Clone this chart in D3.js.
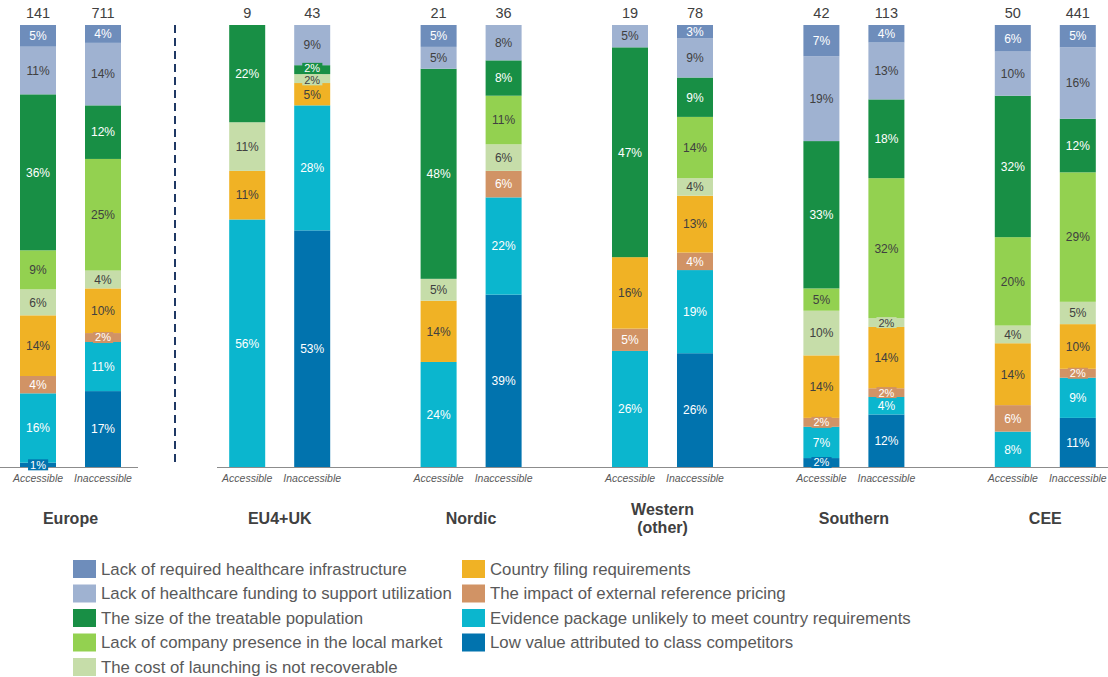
<!DOCTYPE html>
<html><head><meta charset="utf-8">
<script src="https://cdn.jsdelivr.net/npm/d3@7"></script>
<style>
html,body{margin:0;padding:0;background:#fff;}
svg{display:block;font-family:"Liberation Sans",Arial,sans-serif;}
</style></head>
<body><svg id="chart" width="1108" height="677"></svg>
<script>
// ---- data ----
const groups = ["Europe", "EU4+UK", "Nordic", "Western\n(other)", "Southern", "CEE"];
const categories = ["Accessible", "Inaccessible"];
const respondents = [141, 711, 9, 43, 21, 36, 19, 78, 42, 113, 50, 441];
const reasons = [
  "Lack of required healthcare infrastructure",
  "Lack of healthcare funding to support utilization",
  "The size of the treatable population",
  "Lack of company presence in the local market",
  "The cost of launching is not recoverable",
  "Country filing requirements",
  "The impact of external reference pricing",
  "Evidence package unlikely to meet country requirements",
  "Low value attributed to class competitors"
];
// values per bar: Europe A/I, EU4+UK A/I, Nordic A/I, Western A/I, Southern A/I, CEE A/I
const infrastructure = [5, 4, 0, 0, 5, 0, 0, 3, 7, 4, 6, 5];
const funding        = [11, 14, 0, 9, 5, 8, 5, 9, 19, 13, 10, 16];
const populationSize = [36, 12, 22, 2, 48, 8, 47, 9, 33, 18, 32, 12];
const presence       = [9, 25, 0, 0, 0, 11, 0, 14, 5, 32, 20, 29];
const launchCost     = [6, 4, 11, 2, 5, 6, 0, 4, 10, 2, 4, 5];
const filing         = [14, 10, 11, 5, 14, 0, 16, 13, 14, 14, 14, 10];
const refPricing     = [4, 2, 0, 0, 0, 6, 5, 4, 2, 2, 6, 2];
const evidence       = [16, 11, 56, 28, 24, 22, 26, 19, 7, 4, 8, 9];
const lowValue       = [1, 17, 0, 53, 0, 39, 0, 26, 2, 12, 0, 11];

const seriesValues = [infrastructure, funding, populationSize, presence, launchCost, filing, refPricing, evidence, lowValue];
const colors = ["#6E8DBB", "#9FB2D1", "#188F45", "#93D150", "#C6DDA9", "#F0B225", "#D19365", "#0BB6CE", "#0173AE"];
const darkText = [false, true, false, true, true, true, false, false, false];

// ---- build table ----
const rows = [];
groups.forEach((g, gi) => categories.forEach((c, ci) => {
  const i = gi * 2 + ci;
  const r = {group: g, cat: c, n: respondents[i]};
  reasons.forEach((k, ki) => r[k] = seriesValues[ki][i]);
  rows.push(r);
}));

const stackKeys = reasons.slice().reverse(); // bottom-up
const stacked = d3.stack().keys(stackKeys).offset(d3.stackOffsetExpand)(rows);

const svg = d3.select("#chart");
const W = 1108;
const baseY = 467, topY = 25;
const y = d3.scaleLinear().domain([0, 1]).range([baseY, topY]);

const xEurope = d3.scaleBand().domain(groups.slice(0, 1)).range([0, 141]);
const xRest = d3.scaleBand().domain(groups.slice(1)).range([184, 1141]);
const groupCenter = g => g === groups[0] ? xEurope(g) + xEurope.bandwidth() / 2 : xRest(g) + xRest.bandwidth() / 2;
const xInner = d3.scalePoint().domain(categories).range([-32.5, 32.5]);
const barW = 36;
const barX = d => groupCenter(d.group) + xInner(d.cat);

// baseline
svg.append("line").attr("x1", 0).attr("x2", xEurope.range()[1] - 3).attr("y1", baseY + 0.5).attr("y2", baseY + 0.5)
  .attr("stroke", "#8c8c8c").attr("stroke-width", 1);
svg.append("line").attr("x1", xRest.range()[0] + 33).attr("x2", W).attr("y1", baseY + 0.5).attr("y2", baseY + 0.5)
  .attr("stroke", "#8c8c8c").attr("stroke-width", 1);

// separator dashed
svg.append("line").attr("x1", 175).attr("x2", 175).attr("y1", topY).attr("y2", baseY)
  .attr("stroke", "#1F3864").attr("stroke-width", 2).attr("stroke-dasharray", "8,5");

// bars
const layers = svg.append("g").selectAll("g").data(stacked).join("g")
  .attr("fill", s => colors[reasons.indexOf(s.key)]);
layers.selectAll("rect").data(s => s.map(d => ({d, key: s.key}))).join("rect")
  .attr("x", o => barX(o.d.data) - barW / 2)
  .attr("width", barW)
  .attr("y", o => y(o.d[1]))
  .attr("height", o => Math.max(0, y(o.d[0]) - y(o.d[1])));

// value labels: collect per bar, then separate close ones
const labels = [];
stacked.forEach(s => {
  const ki = reasons.indexOf(s.key);
  s.forEach((d, bi) => {
    const v = d.data[s.key];
    if (!v) return;
    labels.push({bi, ki, v, cx: barX(d.data), cy: (y(d[0]) + y(d[1])) / 2});
  });
});
d3.groups(labels, l => l.bi).forEach(([, arr]) => {
  arr.sort((a, b) => a.cy - b.cy);
  for (let i = 1; i < arr.length; i++) {
    const gap = arr[i].cy - arr[i - 1].cy;
    const minGap = 11.5;
    if (gap < minGap) {
      const push = (minGap - gap) / 2;
      arr[i - 1].cy -= push;
      arr[i].cy += push;
    }
  }
});
const labG = svg.append("g");
labels.forEach(l => {
  const small = l.v <= 2;
  const g = labG.append("g");
  const t = g.append("text").attr("x", l.cx).attr("y", l.cy).attr("dy", "0.36em")
    .attr("text-anchor", "middle").attr("font-size", small ? 11 : 12)
    .attr("fill", darkText[l.ki] ? "#404040" : "#ffffff")
    .text(l.v + "%");
  if (small) {
    const bb = t.node().getBBox();
    g.insert("rect", "text").attr("x", bb.x - 2).attr("y", l.cy - 5.5).attr("width", bb.width + 4).attr("height", 11)
      .attr("fill", colors[l.ki]);
  }
});

// n labels
svg.append("g").selectAll("text").data(rows).join("text")
  .attr("x", d => barX(d)).attr("y", 13).attr("dy", "0.35em").attr("text-anchor", "middle")
  .attr("font-size", 14.5).attr("fill", "#404040").text(d => d.n);

// category labels
svg.append("g").selectAll("text").data(rows).join("text")
  .attr("x", d => barX(d)).attr("y", 478).attr("dy", "0.35em").attr("text-anchor", "middle")
  .attr("font-size", 10.5).attr("font-style", "italic").attr("fill", "#595959").text(d => d.cat);

// group labels
svg.append("g").selectAll("text").data(groups).join("text")
  .attr("x", g => groupCenter(g)).attr("text-anchor", "middle")
  .attr("font-size", 16).attr("font-weight", "bold").attr("fill", "#404040")
  .each(function(g) {
    const lines = g.split("\n");
    const el = d3.select(this);
    const y0 = 518 - (lines.length - 1) * 9;
    lines.forEach((ln, i) => el.append("tspan").attr("x", groupCenter(g)).attr("y", y0 + i * 18).attr("dy", "0.35em").text(ln));
  });

// legend
const leg = svg.append("g");
reasons.forEach((r, i) => {
  const col = i < 5 ? 0 : 1;
  const row = i < 5 ? i : i - 5;
  const lx = col === 0 ? 73 : 462;
  const ly = 560 + row * 24.5;
  leg.append("rect").attr("x", lx).attr("y", ly).attr("width", 23).attr("height", 18).attr("fill", colors[i]);
  leg.append("text").attr("x", lx + 28).attr("y", ly + 9).attr("dy", "0.35em")
    .attr("font-size", 16.8).attr("fill", "#595959").text(r);
});
</script></body></html>
